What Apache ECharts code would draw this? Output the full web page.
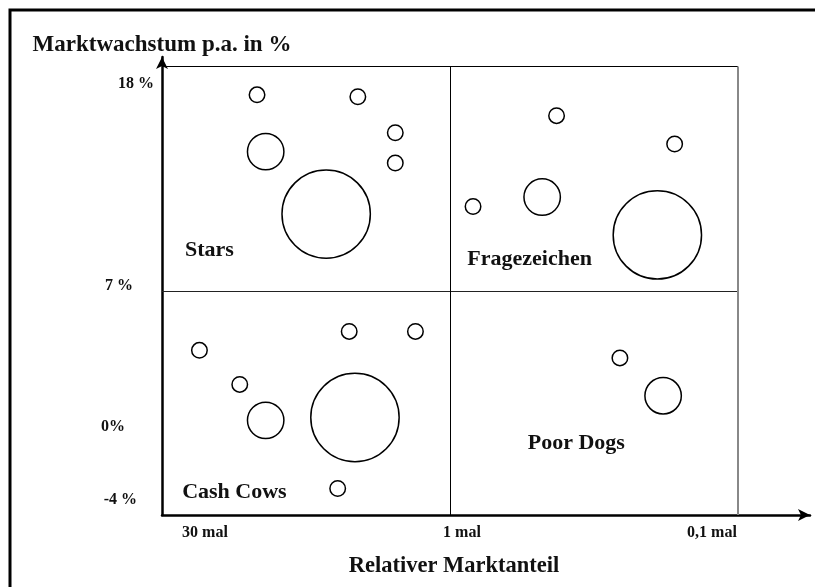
<!DOCTYPE html>
<html>
<head>
<meta charset="utf-8">
<title>Portfolio-Matrix</title>
<script src="https://cdn.jsdelivr.net/npm/echarts@6/dist/echarts.min.js"></script>
<style>
  html, body { margin: 0; padding: 0; background: #fff; }
  #chart { width: 815px; height: 587px; }
</style>
</head>
<body>
<div id="chart"></div>
<script>
    // x: 0 = 30 mal, 1 = 1 mal, 2 = 0,1 mal (relativer Marktanteil)
    var xTicks = [0, 1, 2];
    var xTickLabels = ['30 mal', '1 mal', '0,1 mal'];
    var yTicks = [18, 7, 0, -4];
    var yTickLabels = ['18 %', '7 %', '0%', '-4 %'];

    // Produkte: [rel. Marktanteil, Marktwachstum %, Umsatz (relativ)]
    var stars = [
        [0.33, 17.4, 1], [0.68, 17.3, 1], [0.81, 15.4, 1], [0.81, 13.8, 1],
        [0.36, 14.4, 2.35], [0.57, 11.1, 5.7]
    ];
    var fragezeichen = [
        [1.37, 16.3, 1], [1.78, 14.8, 1], [1.08, 11.5, 1],
        [1.32, 12.0, 2.35], [1.72, 10.0, 5.7]
    ];
    var cashCows = [
        [0.65, 4.9, 1], [0.88, 4.9, 1], [0.13, 3.9, 1], [0.27, 2.1, 1],
        [0.36, 0.2, 2.35], [0.67, 0.35, 5.7], [0.61, -3.4, 1]
    ];
    var poorDogs = [
        [1.59, 3.5, 1], [1.74, 1.5, 2.35]
    ];

    var quadrantNames = ['Stars', 'Fragezeichen', 'Cash Cows', 'Poor Dogs'];
    var quadrantLabelPos = [[0.08, 9.2], [1.06, 8.7], [0.07, -3.6], [1.27, -1.0]];

    // Matrixgrenzen
    var xBounds = [0, 1, 2];
    var yBounds = [-4.8, 7, 18.9];

    var FONT = "'Liberation Serif', 'DejaVu Serif', serif";
    var xLabelShift = [43, 12, -26];
    var yLabelPad = [[0, 0, 0, 0], [0, 21, 12, 0], [6, 29, 0, 0], [0, 17, 0, 0]];

    var xRich = {}, yRich = {};
    xTickLabels.forEach(function (l, i) {
        var s = xLabelShift[i];
        xRich['x' + i] = {
            fontFamily: FONT, fontSize: 16, fontWeight: 'bold', color: '#111',
            padding: s >= 0 ? [0, 0, 0, 2 * s] : [0, -2 * s, 0, 0]
        };
    });
    yTickLabels.forEach(function (l, i) {
        yRich['y' + i] = {
            fontFamily: FONT, fontSize: 16, fontWeight: 'bold', color: '#111',
            padding: yLabelPad[i]
        };
    });

    var bubbleStyle = {
        color: 'rgba(255,255,255,0)',
        borderColor: '#000',
        borderWidth: 1.5,
        opacity: 1
    };

    function bubbles(name, data) {
        return {
            name: name,
            type: 'scatter',
            data: data,
            symbol: 'circle',
            symbolSize: function (v) { return v[2] * 15.5; },
            itemStyle: bubbleStyle,
            silent: true
        };
    }

    var chart = echarts.init(document.getElementById('chart'));
    chart.setOption({
        backgroundColor: '#fff',
        animation: false,
        textStyle: { fontFamily: FONT },
        graphic: [{
            type: 'rect',
            shape: { x: 10, y: 10, width: 830, height: 610 },
            style: { fill: 'none', stroke: '#000', lineWidth: 3 },
            silent: true
        }],
        grid: { left: 162, right: 5, top: 57, bottom: 72 },
        xAxis: {
            type: 'value',
            min: 0,
            max: 2.25,
            name: 'Relativer Marktanteil',
            nameLocation: 'middle',
            nameGap: 40,
            nameTextStyle: {
                fontFamily: FONT, fontSize: 22.5, fontWeight: 'bold', color: '#111',
                padding: [0, 64, 0, 0]
            },
            axisLine: {
                onZero: false,
                lineStyle: { color: '#000', width: 2.5 },
                symbol: ['none', 'arrow'],
                symbolSize: [9, 12]
            },
            axisTick: { show: false },
            splitLine: { show: false },
            axisLabel: {
                customValues: xTicks,
                margin: 10,
                formatter: function (v) {
                    var i = xTicks.indexOf(v);
                    return i < 0 ? '' : '{x' + i + '|' + xTickLabels[i] + '}';
                },
                rich: xRich
            }
        },
        yAxis: {
            type: 'value',
            min: -4.8,
            max: 19.4,
            name: 'Marktwachstum p.a. in %',
            nameLocation: 'end',
            nameGap: 0,
            nameTextStyle: {
                fontFamily: FONT, fontSize: 23, fontWeight: 'bold', color: '#111'
            },
            axisLine: {
                onZero: false,
                lineStyle: { color: '#000', width: 2.5 },
                symbol: ['none', 'arrow'],
                symbolSize: [9, 12]
            },
            axisTick: { show: false },
            splitLine: { show: false },
            axisLabel: {
                customValues: yTicks,
                margin: 8,
                formatter: function (v) {
                    var i = yTicks.indexOf(v);
                    return i < 0 ? '' : '{y' + i + '|' + yTickLabels[i] + '}';
                },
                rich: yRich
            }
        },
        series: [
            bubbles('Stars', stars),
            bubbles('Fragezeichen', fragezeichen),
            bubbles('Cash Cows', cashCows),
            bubbles('Poor Dogs', poorDogs),
            {
                name: 'Matrix',
                type: 'scatter',
                data: quadrantNames.map(function (n, i) {
                    return { name: n, value: quadrantLabelPos[i] };
                }),
                symbolSize: 0,
                silent: true,
                itemStyle: { opacity: 1 },
                label: {
                    show: true,
                    position: [0, 0],
                    align: 'left',
                    verticalAlign: 'middle',
                    formatter: '{b}',
                    fontFamily: FONT,
                    fontSize: 22,
                    fontWeight: 'bold',
                    color: '#111'
                },
                markLine: {
                    silent: true,
                    symbol: 'none',
                    label: { show: false },
                    data: [
                        [{ coord: [xBounds[0], yBounds[2]] }, { coord: [xBounds[2], yBounds[2]],
                            lineStyle: { color: '#000', width: 1.2, type: 'solid' } }],
                        [{ coord: [xBounds[0], yBounds[1]] }, { coord: [xBounds[2], yBounds[1]],
                            lineStyle: { color: '#222', width: 1.2, type: 'solid' } }],
                        [{ coord: [xBounds[1], yBounds[0]] }, { coord: [xBounds[1], yBounds[2]],
                            lineStyle: { color: '#000', width: 1, type: 'solid' } }],
                        [{ coord: [xBounds[2], yBounds[0]] }, { coord: [xBounds[2], yBounds[2]],
                            lineStyle: { color: '#888', width: 2, type: 'solid' } }]
                    ]
                }
            }
        ]
    });
</script>
</body>
</html>
